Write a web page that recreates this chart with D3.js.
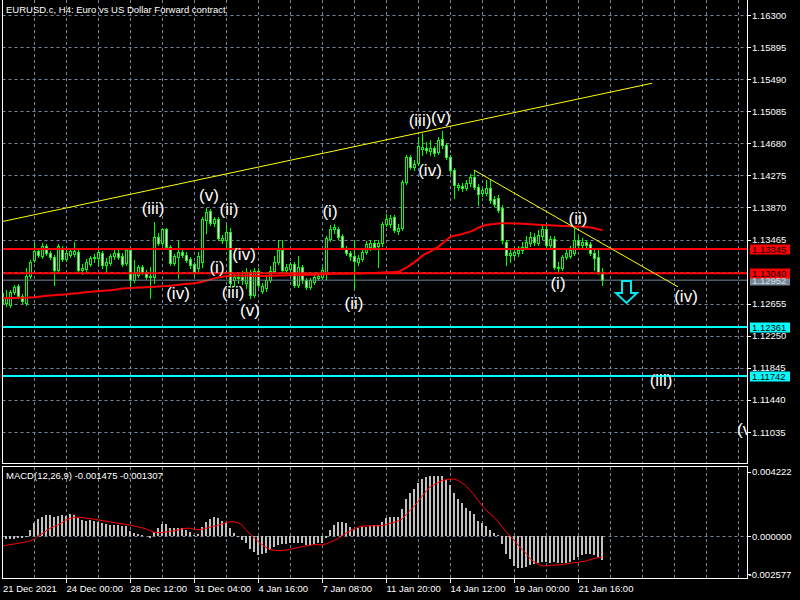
<!DOCTYPE html>
<html><head><meta charset="utf-8">
<script src="https://cdn.jsdelivr.net/npm/d3@7"></script>
<style>html,body{margin:0;padding:0;background:#000;overflow:hidden}svg{display:block}</style>
</head><body>
<svg id="c" width="800" height="600"></svg>
<script>
// ---------------- DATA ----------------
const titleText = "EURUSD.c, H4:  Euro vs US Dollar Forward contract";
const macdTitle = "MACD(12,26,9) -0.001475 -0.001307";

const opens = [
1.12792,1.12666,1.12641,1.12805,1.12880,1.12754,1.12666,1.13006,1.13208,1.13321,
1.13258,1.13384,1.13296,1.13246,1.13082,1.13359,1.13221,1.13271,1.13284,1.13309,
1.13082,1.13095,1.13158,1.13233,1.13233,1.13296,1.13145,1.13170,1.13258,1.13296,
1.13258,1.13170,1.13334,1.12956,1.13019,1.13120,1.13057,1.12994,1.12994,1.13498,
1.13422,1.13599,1.13372,1.13170,1.13246,1.13309,1.13271,1.13221,1.13158,1.13107,
1.13183,1.13712,1.13825,1.13674,1.13725,1.13460,1.13460,1.13561,1.12956,1.12981,
1.12994,1.12918,1.13057,1.12767,1.13069,1.12817,1.12855,1.12956,1.13069,1.13183,
1.13334,1.13082,1.13095,1.13158,1.12893,1.13120,1.12956,1.12868,1.12931,1.12981,
1.12994,1.13032,1.13473,1.13599,1.13599,1.13510,1.13359,1.13296,1.13258,1.13183,
1.13221,1.13309,1.13372,1.13422,1.13384,1.13422,1.13662,1.13662,1.13750,1.13573,
1.13611,1.14191,1.14506,1.14380,1.14430,1.14607,1.14619,1.14581,1.14619,1.14569,
1.14733,1.14657,1.14506,1.14342,1.14128,1.14140,1.14115,1.14178,1.14254,1.14128,
1.14052,1.14052,1.14115,1.13977,1.13989,1.13863,1.13435,1.13271,1.13271,1.13296,
1.13334,1.13372,1.13422,1.13498,1.13422,1.13510,1.13599,1.13397,1.13473,1.13107,
1.13107,1.13246,1.13258,1.13296,1.13460,1.13397,1.13435,1.13410,1.13296,1.13246,
1.13044];
const highs = [
1.12868,1.12830,1.12830,1.12893,1.12906,1.12780,1.13107,1.13208,1.13422,1.13359,
1.13422,1.13410,1.13321,1.13271,1.13410,1.13384,1.13334,1.13347,1.13435,1.13334,
1.13158,1.13221,1.13258,1.13284,1.13334,1.13321,1.13233,1.13284,1.13334,1.13334,
1.13296,1.13347,1.13347,1.13208,1.13145,1.13145,1.13082,1.13120,1.13687,1.13548,
1.13611,1.13611,1.13397,1.13284,1.13447,1.13347,1.13309,1.13246,1.13183,1.13309,
1.13750,1.13863,1.13851,1.13750,1.13750,1.13523,1.13649,1.13611,1.13032,1.13044,
1.13069,1.13107,1.13082,1.13107,1.13107,1.12918,1.12994,1.13132,1.13258,1.13460,
1.13460,1.13158,1.13183,1.13183,1.13258,1.13145,1.12981,1.12981,1.13019,1.13044,
1.13120,1.13510,1.13649,1.13662,1.13624,1.13536,1.13384,1.13321,1.13460,1.13271,
1.13334,1.13447,1.13460,1.13460,1.13460,1.13687,1.13788,1.13775,1.13775,1.13662,
1.14216,1.14531,1.14531,1.14468,1.14758,1.14808,1.14695,1.14720,1.14644,1.14758,
1.14833,1.14682,1.14531,1.14367,1.14178,1.14178,1.14216,1.14292,1.14342,1.14166,
1.14115,1.14216,1.14216,1.14014,1.14027,1.13901,1.13460,1.13334,1.13372,1.13384,
1.13435,1.13510,1.13561,1.13548,1.13586,1.13649,1.13636,1.13510,1.13510,1.13183,
1.13271,1.13334,1.13384,1.13611,1.13510,1.13485,1.13460,1.13435,1.13334,1.13334,
1.13107];
const lows = [
1.12628,1.12628,1.12616,1.12780,1.12729,1.12666,1.12641,1.12981,1.13183,1.13246,
1.13233,1.13271,1.13221,1.12893,1.13057,1.13195,1.13195,1.13246,1.13258,1.13057,
1.13032,1.13044,1.13132,1.13183,1.13132,1.13107,1.13069,1.13145,1.13221,1.13221,
1.13132,1.13145,1.12868,1.12931,1.12994,1.13032,1.12969,1.12729,1.12918,1.13397,
1.13397,1.13347,1.13145,1.13145,1.12981,1.13246,1.13183,1.13107,1.13006,1.13057,
1.13120,1.13548,1.13649,1.13636,1.13460,1.13422,1.13359,1.12868,1.12880,1.12918,
1.12906,1.12855,1.12729,1.12742,1.12868,1.12792,1.12817,1.12931,1.13044,1.13158,
1.13057,1.13044,1.13057,1.12868,1.12868,1.12918,1.12843,1.12843,1.12906,1.12956,
1.12969,1.12969,1.13447,1.13548,1.13473,1.13347,1.13271,1.13208,1.12855,1.13145,
1.13195,1.13284,1.13334,1.13347,1.13120,1.13384,1.13636,1.13624,1.13561,1.13536,
1.13586,1.14166,1.14355,1.14342,1.14405,1.14531,1.14556,1.14531,1.14518,1.14544,
1.14619,1.14481,1.14304,1.13989,1.14090,1.14077,1.14090,1.14140,1.14103,1.13901,
1.14014,1.14027,1.13926,1.13888,1.13813,1.13422,1.13145,1.13183,1.13233,1.13258,
1.13296,1.13347,1.13384,1.13397,1.13397,1.13473,1.13372,1.13359,1.13095,1.13057,
1.13082,1.13221,1.13233,1.13271,1.13372,1.13372,1.13372,1.13271,1.13082,1.13032,
1.12893];
const closes = [
1.12666,1.12742,1.12805,1.12868,1.12754,1.12691,1.13006,1.13183,1.13321,1.13271,
1.13384,1.13296,1.13246,1.13082,1.13384,1.13221,1.13296,1.13321,1.13321,1.13082,
1.13107,1.13183,1.13233,1.13246,1.13309,1.13145,1.13183,1.13258,1.13296,1.13246,
1.13158,1.13334,1.12956,1.13032,1.13120,1.13057,1.12994,1.13006,1.13498,1.13422,
1.13599,1.13372,1.13170,1.13258,1.13309,1.13271,1.13208,1.13145,1.13057,1.13258,
1.13725,1.13813,1.13674,1.13725,1.13485,1.13485,1.13561,1.12918,1.12994,1.12994,
1.12956,1.13057,1.12767,1.13069,1.12893,1.12880,1.12956,1.13069,1.13183,1.13334,
1.13082,1.13120,1.13158,1.12893,1.13120,1.12956,1.12868,1.12956,1.12994,1.13006,
1.13082,1.13485,1.13599,1.13624,1.13498,1.13372,1.13296,1.13258,1.13195,1.13233,
1.13309,1.13410,1.13422,1.13372,1.13422,1.13662,1.13725,1.13737,1.13586,1.13611,
1.14191,1.14506,1.14380,1.14418,1.14644,1.14632,1.14594,1.14619,1.14556,1.14720,
1.14657,1.14506,1.14342,1.14153,1.14153,1.14115,1.14178,1.14254,1.14128,1.14040,
1.14090,1.14115,1.13964,1.13914,1.13838,1.13460,1.13271,1.13296,1.13309,1.13334,
1.13372,1.13435,1.13498,1.13435,1.13523,1.13599,1.13397,1.13473,1.13120,1.13120,
1.13246,1.13296,1.13334,1.13460,1.13397,1.13435,1.13397,1.13296,1.13233,1.13057,
1.12952];
const maValues = [
1.12726,1.12726,1.12727,1.12728,1.12729,1.12729,1.12730,1.12732,1.12735,1.12742,
1.12748,1.12754,1.12758,1.12763,1.12767,1.12769,1.12773,1.12780,1.12785,1.12788,
1.12795,1.12800,1.12805,1.12809,1.12811,1.12817,1.12821,1.12826,1.12830,1.12839,
1.12848,1.12851,1.12854,1.12855,1.12858,1.12859,1.12863,1.12867,1.12869,1.12872,
1.12874,1.12877,1.12880,1.12887,1.12893,1.12899,1.12906,1.12908,1.12914,1.12922,
1.12931,1.12946,1.12962,1.12975,1.12987,1.12996,1.13003,1.13008,1.13011,1.13011,
1.13008,1.13008,1.13007,1.13006,1.13006,1.13006,1.13006,1.13007,1.13008,1.13010,
1.13011,1.13013,1.13014,1.13015,1.13016,1.13018,1.13019,1.13019,1.13020,1.13022,
1.13024,1.13027,1.13029,1.13032,1.13032,1.13032,1.13033,1.13035,1.13036,1.13037,
1.13038,1.13041,1.13043,1.13044,1.13047,1.13049,1.13052,1.13053,1.13054,1.13057,
1.13086,1.13111,1.13145,1.13179,1.13221,1.13262,1.13292,1.13313,1.13347,1.13376,
1.13418,1.13460,1.13500,1.13514,1.13523,1.13536,1.13552,1.13565,1.13586,1.13614,
1.13636,1.13649,1.13658,1.13662,1.13668,1.13670,1.13672,1.13670,1.13669,1.13667,
1.13664,1.13662,1.13658,1.13654,1.13652,1.13649,1.13646,1.13644,1.13641,1.13639,
1.13636,1.13636,1.13634,1.13631,1.13629,1.13626,1.13624,1.13618,1.13607,1.13595,
1.13586];
const macdMain = [
-0.000246,-0.000205,-0.000164,-0.000164,-0.000143,-0.000123,-0.000082,0.000369,0.000779,0.001025,
0.001147,0.001291,0.001291,0.001188,0.001229,0.001291,0.001229,0.001352,0.001291,0.001086,
0.000984,0.000943,0.000984,0.000922,0.000881,0.000779,0.000738,0.000676,0.000676,0.000676,
0.000615,0.000615,0.000328,0.000205,0.000123,0.000061,-0.000020,-0.000143,0.000266,0.000471,
0.000717,0.000717,0.000512,0.000471,0.000512,0.000471,0.000369,0.000266,0.000061,0.000123,
0.000574,0.000881,0.001025,0.001188,0.001086,0.000922,0.000820,0.000471,0.000164,-0.000082,
-0.000246,-0.000451,-0.000820,-0.000963,-0.001168,-0.001127,-0.001065,-0.000861,-0.000697,-0.000553,
-0.000492,-0.000492,-0.000410,-0.000451,-0.000451,-0.000451,-0.000553,-0.000553,-0.000512,-0.000451,
-0.000410,-0.000143,0.000369,0.000676,0.000881,0.000881,0.000779,0.000574,0.000369,0.000471,
0.000574,0.000574,0.000615,0.000676,0.000676,0.000881,0.001086,0.001147,0.001188,0.001188,
0.001639,0.002254,0.002623,0.002869,0.003237,0.003504,0.003606,0.003688,0.003688,0.003688,
0.003647,0.003442,0.003135,0.002623,0.002254,0.002008,0.001701,0.001557,0.001352,0.000922,
0.000779,0.000615,0.000369,0.000164,0.000041,-0.000492,-0.001106,-0.001434,-0.001844,-0.001988,
-0.001988,-0.001885,-0.001783,-0.001721,-0.001639,-0.001578,-0.001578,-0.001639,-0.001578,-0.001680,
-0.001680,-0.001639,-0.001578,-0.001475,-0.001270,-0.001168,-0.001127,-0.001106,-0.001168,-0.001270,
-0.001475];
const macdSignal = [
-0.000615,-0.000574,-0.000533,-0.000492,-0.000451,-0.000410,-0.000369,-0.000307,-0.000205,0.000000,
0.000123,0.000307,0.000471,0.000574,0.000676,0.000820,0.000984,0.001065,0.001147,0.001147,
0.001127,0.001086,0.001065,0.001025,0.000984,0.000943,0.000902,0.000861,0.000820,0.000779,
0.000738,0.000697,0.000656,0.000615,0.000553,0.000492,0.000430,0.000328,0.000225,0.000205,
0.000205,0.000246,0.000287,0.000307,0.000369,0.000430,0.000471,0.000471,0.000410,0.000369,
0.000410,0.000471,0.000533,0.000594,0.000656,0.000738,0.000820,0.000861,0.000861,0.000820,
0.000656,0.000369,0.000123,-0.000102,-0.000328,-0.000533,-0.000697,-0.000820,-0.000881,-0.000902,
-0.000902,-0.000861,-0.000820,-0.000758,-0.000717,-0.000656,-0.000615,-0.000574,-0.000533,-0.000533,
-0.000553,-0.000492,-0.000389,-0.000287,-0.000164,0.000000,0.000164,0.000307,0.000430,0.000533,
0.000594,0.000615,0.000615,0.000615,0.000615,0.000635,0.000697,0.000779,0.000820,0.000922,
0.001025,0.001291,0.001557,0.001803,0.002110,0.002418,0.002725,0.002992,0.003135,0.003278,
0.003381,0.003442,0.003483,0.003483,0.003401,0.003237,0.003074,0.002787,0.002520,0.002172,
0.001865,0.001598,0.001352,0.001147,0.000881,0.000574,0.000266,0.000000,-0.000246,-0.000553,
-0.000820,-0.001065,-0.001373,-0.001578,-0.001742,-0.001824,-0.001844,-0.001803,-0.001783,-0.001783,
-0.001742,-0.001721,-0.001680,-0.001639,-0.001619,-0.001578,-0.001537,-0.001455,-0.001393,-0.001332,
-0.001307];

const priceTicks = [1.11035,1.11440,1.11845,1.12250,1.12655,1.13060,1.13465,1.13870,1.14275,1.14680,1.15085,1.15490,1.15895,1.16300];
const priceTickLabels = ["1.11035","1.11440","1.11845","1.12250","1.12655","1.13060","1.13465","1.13870","1.14275","1.14680","1.15085","1.15490","1.15895","1.16300"];
const hiddenTickLabels = ["1.13060"]; // covered by the price boxes in the reference
const macdTicks = [0.004222, 0.0, -0.002577];
const macdTickLabels = ["0.004222","0.000000","-0.002577"];
const timeLabelIdx = [0,16,32,48,64,80,96,112,128,144];
const timeLabels = ["21 Dec 2021","24 Dec 00:00","28 Dec 12:00","31 Dec 04:00","4 Jan 16:00","7 Jan 08:00","11 Jan 20:00","14 Jan 12:00","19 Jan 00:00","21 Jan 16:00"];
const gridIdx = [8,16,24,32,40,48,56,64,72,80,88,96,104,112,120,128,136,144,152,160,168,176,184];

const levelPrices = [1.12952, 1.13345, 1.13040, 1.12361, 1.11742];
const levelLabels = ["1.12952","1.13345","1.13040","1.12361","1.11742"];
const levelKinds  = ["bid","red","red","cyan","cyan"];

const upTrendIdx = [0, 162.5], upTrendPrice = [1.13691, 1.15438];
const downTrendIdx = [118, 169], downTrendPrice = [1.14342, 1.12868];

const waveText  = ["(iii)","(iv)","(v)","(ii)","(i)","(iv)","(iii)","(v)","(i)","(ii)","(iii)","(v)","(iv)","(ii)","(i)","(iv)","(iii)","(v)"];
const waveIdx   = [37.75,44,51.75,56.75,53.75,60.5,57.75,62,82,88,104.5,109.75,107,144,139,171,164.75,186.25];
const wavePrice = [1.13863,1.12780,1.14027,1.13838,1.13107,1.13271,1.12792,1.12566,1.13813,1.12654,1.14972,1.15010,1.14342,1.13725,1.12906,1.12742,1.11683,1.11066];

const arrowIdx = 156, arrowPrice = 1.12943;

// ---------------- CHART ----------------
const svg = d3.select("#c");
const FONT = "'Liberation Sans', Arial, sans-serif";
const GRID = "#778899", LIME = "#00ff00";
const L = 2.5, R = 747.5, MAIN_B = 463.5, MACD_T = 466.5, MACD_B = 578.5;

svg.append("rect").attr("width",800).attr("height",600).attr("fill","#000");

const x = d3.scaleLinear().domain([0, 186.5]).range([2, 748]);
const y = d3.scaleLinear().domain([1.11035, 1.16300]).range([432, 15]);
const ym = d3.scaleLinear().domain([-0.002577, 0.004222]).range([578, 467]);

const defs = svg.append("defs");
defs.append("clipPath").attr("id","cm").append("rect").attr("x",3).attr("y",0).attr("width",744).attr("height",463);
defs.append("clipPath").attr("id","cd").append("rect").attr("x",3).attr("y",467).attr("width",744).attr("height",111);

// grid - main
const gMain = svg.append("g").attr("clip-path","url(#cm)");
gMain.selectAll(".hg").data(priceTicks).join("line")
  .attr("x1",L).attr("x2",R).attr("y1",d=>Math.round(y(d))+0.5).attr("y2",d=>Math.round(y(d))+0.5)
  .attr("stroke",GRID).attr("stroke-dasharray","3,3");
gMain.selectAll(".vg").data(gridIdx).join("line")
  .attr("x1",d=>Math.round(x(d))+0.5).attr("x2",d=>Math.round(x(d))+0.5).attr("y1",0).attr("y2",463)
  .attr("stroke",GRID).attr("stroke-dasharray","3,3");

// grid - macd
const gMacd = svg.append("g").attr("clip-path","url(#cd)");
gMacd.selectAll(".vg2").data(gridIdx).join("line")
  .attr("x1",d=>Math.round(x(d))+0.5).attr("x2",d=>Math.round(x(d))+0.5).attr("y1",467).attr("y2",578)
  .attr("stroke",GRID).attr("stroke-dasharray","3,3");
gMacd.append("line").attr("x1",L).attr("x2",R).attr("y1",Math.round(ym(0))+0.5).attr("y2",Math.round(ym(0))+0.5)
  .attr("stroke",GRID).attr("stroke-dasharray","3,3");

// candles
const bars = opens.map((o,i)=>({i,o,h:highs[i],l:lows[i],c:closes[i]}));
const gC = gMain.append("g").attr("shape-rendering","crispEdges");
gC.selectAll(".wick").data(bars).join("line")
  .attr("x1",d=>Math.round(x(d.i))+0.5).attr("x2",d=>Math.round(x(d.i))+0.5)
  .attr("y1",d=>Math.round(y(d.h))).attr("y2",d=>Math.round(y(d.l))+1)
  .attr("stroke",LIME);
gC.selectAll(".body").data(bars).join("rect")
  .attr("x",d=>Math.round(x(d.i))-0.5)
  .attr("y",d=>Math.round(y(Math.max(d.o,d.c)))+0.5)
  .attr("width",2)
  .attr("height",d=>Math.max(1, Math.round(y(Math.min(d.o,d.c)))-Math.round(y(Math.max(d.o,d.c)))))
  .attr("fill",d=>d.c>=d.o?"#000":"#fff")
  .attr("stroke",LIME);

// moving average
gMain.append("path").datum(maValues)
  .attr("d", d3.line().x((d,i)=>x(i)+0.5).y(d=>y(d)))
  .attr("fill","none").attr("stroke","#ff0000").attr("stroke-width",2);

// horizontal levels
const levels = levelPrices.map((p,k)=>({p,label:levelLabels[k],kind:levelKinds[k]}));
const lvColor = {bid:GRID, red:"#ff0000", cyan:"#00ffff"};
const lvWidth = {bid:1, red:2, cyan:2};
gMain.selectAll(".lv").data(levels).join("line")
  .attr("x1",L).attr("x2",R)
  .attr("y1",d=>y(d.p)).attr("y2",d=>y(d.p))
  .attr("stroke",d=>lvColor[d.kind]).attr("stroke-width",d=>lvWidth[d.kind]);

// trend lines
gMain.append("line")
  .attr("x1",x(upTrendIdx[0])).attr("y1",y(upTrendPrice[0]))
  .attr("x2",x(upTrendIdx[1])).attr("y2",y(upTrendPrice[1]))
  .attr("stroke","#ffff00").attr("stroke-width",1);
gMain.append("line")
  .attr("x1",x(downTrendIdx[0])).attr("y1",y(downTrendPrice[0]))
  .attr("x2",x(downTrendIdx[1])).attr("y2",y(downTrendPrice[1]))
  .attr("stroke","#ffff00").attr("stroke-width",1);

// arrow
const ax = x(arrowIdx)+0.5, ay = y(arrowPrice);
gMain.append("path")
  .attr("d",`M${ax-4.5},${ay} L${ax+4.5},${ay} L${ax+4.5},${ay+12} L${ax+10.5},${ay+12} L${ax},${ay+22} L${ax-10.5},${ay+12} L${ax-4.5},${ay+12} Z`)
  .attr("fill","none").attr("stroke","#00e8f0").attr("stroke-width",2);

// wave labels
const waves = waveText.map((t,k)=>({t,i:waveIdx[k],p:wavePrice[k]}));
gMain.selectAll(".wv").data(waves).join("text")
  .attr("x",d=>x(d.i)).attr("y",d=>y(d.p))
  .attr("text-anchor","middle").attr("dominant-baseline","central")
  .attr("font-family",FONT).attr("font-size",17).attr("fill","#ffffff")
  .text(d=>d.t);

// MACD histogram + signal
gMacd.append("g").attr("shape-rendering","crispEdges")
  .selectAll("rect").data(macdMain).join("rect")
  .attr("x",(d,i)=>Math.round(x(i))-1)
  .attr("width",2)
  .attr("y",d=>Math.min(ym(d),ym(0)))
  .attr("height",d=>Math.abs(ym(d)-ym(0)))
  .attr("fill","#c0c0c0");
gMacd.append("path").datum(macdSignal)
  .attr("d", d3.line().x((d,i)=>x(i)).y(d=>ym(d)))
  .attr("fill","none").attr("stroke","#ff0000").attr("stroke-width",1);

// frames
const fr = svg.append("g").attr("stroke","#fff").attr("fill","none").attr("shape-rendering","crispEdges");
fr.append("path").attr("d",`M${L},0 L${L},${MAIN_B} L${R},${MAIN_B} L${R},0`);
fr.append("path").attr("d",`M${L},${MACD_T} L${R},${MACD_T} L${R},${MACD_B} L${L},${MACD_B} Z`);

// right price axis
const pa = svg.append("g");
const shownTicks = priceTicks.map((p,k)=>({p,label:priceTickLabels[k]})).filter(d=>!hiddenTickLabels.includes(d.label));
pa.selectAll("line").data(shownTicks).join("line")
  .attr("x1",R).attr("x2",751).attr("y1",d=>Math.round(y(d.p))+0.5).attr("y2",d=>Math.round(y(d.p))+0.5)
  .attr("stroke","#fff").attr("shape-rendering","crispEdges");
pa.selectAll("text").data(shownTicks).join("text")
  .attr("x",752).attr("y",d=>y(d.p)+3.5)
  .attr("font-family",FONT).attr("font-size",9.5).attr("fill","#fff")
  .text(d=>d.label);

// level boxes
const lb = svg.append("g");
lb.selectAll("rect").data(levels).join("rect")
  .attr("x",750).attr("width",40).attr("y",d=>Math.round(y(d.p))-4.5).attr("height",10)
  .attr("fill",d=>d.kind==="bid"?GRID:lvColor[d.kind]);
lb.selectAll("text").data(levels).join("text")
  .attr("x",752).attr("y",d=>y(d.p)+3.8)
  .attr("font-family",FONT).attr("font-size",9.5)
  .attr("fill",d=>d.kind==="bid"?"#d8dde3":"#000")
  .text(d=>d.label);

// macd axis
const ma = svg.append("g");
const macdLabelY = [471.7, 536, 574.3];
ma.selectAll("line").data(macdTicks).join("line")
  .attr("x1",R).attr("x2",751).attr("y1",(d,k)=>Math.round(macdLabelY[k])+0.5).attr("y2",(d,k)=>Math.round(macdLabelY[k])+0.5)
  .attr("stroke","#fff").attr("shape-rendering","crispEdges");
ma.selectAll("text").data(macdTicks).join("text")
  .attr("x",(d,k)=>macdTickLabels[k].startsWith("-")?748.5:752).attr("y",(d,k)=>macdLabelY[k]+3.5)
  .attr("font-family",FONT).attr("font-size",9.5).attr("fill","#fff")
  .text((d,k)=>macdTickLabels[k]);

// time axis
const ta = svg.append("g");
ta.selectAll("line").data(timeLabelIdx.slice(1)).join("line")
  .attr("x1",d=>Math.round(x(d))+0.5).attr("x2",d=>Math.round(x(d))+0.5).attr("y1",MACD_B).attr("y2",583)
  .attr("stroke","#fff").attr("shape-rendering","crispEdges");
ta.selectAll("text").data(timeLabelIdx).join("text")
  .attr("x",(d,k)=>k===0?3:x(d)+0.5).attr("y",592)
  .attr("font-family",FONT).attr("font-size",9.5).attr("fill","#fff")
  .text((d,k)=>timeLabels[k]);

// titles
svg.append("text").attr("x",6).attr("y",12.5).attr("font-family",FONT).attr("font-size",9.5).attr("fill","#fff").text(titleText);
svg.append("text").attr("x",6).attr("y",479).attr("font-family",FONT).attr("font-size",9.5).attr("fill","#fff").text(macdTitle);
</script>
</body></html>
